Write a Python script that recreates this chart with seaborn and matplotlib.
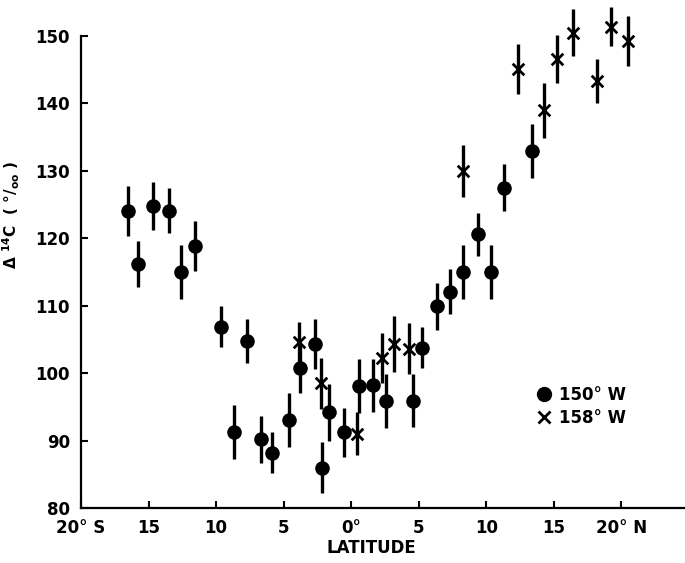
import matplotlib
matplotlib.use("Agg")
import matplotlib.pyplot as plt
import seaborn as sns
import pandas as pd
from matplotlib.lines import Line2D

# Delta 14C vs latitude, two cruise tracks
lat_150w = [-16.5, -15.75, -14.7, -13.5, -12.6, -11.6, -9.65, -8.7, -7.7, -6.7,
            -5.9, -4.6, -3.8, -2.7, -2.15, -1.65, -0.55, 0.6, 1.6, 2.6,
            4.6, 5.2, 6.35, 7.3, 8.3, 9.4, 10.35, 11.3, 13.4]
d14c_150w = [124.1, 116.2, 124.8, 124.1, 115.0, 118.9, 106.9, 91.3, 104.8, 90.2,
             88.2, 93.0, 100.8, 104.3, 86.0, 94.2, 91.2, 98.1, 98.2, 95.9,
             95.9, 103.8, 109.9, 112.1, 115.0, 120.6, 115.0, 127.5, 132.9]
err_150w = [3.7, 3.4, 3.5, 3.3, 4.0, 3.7, 3.0, 4.0, 3.3, 3.5,
            3.0, 4.0, 3.7, 3.7, 3.8, 4.2, 3.6, 4.0, 3.9, 4.0,
            3.9, 3.1, 3.5, 3.3, 4.0, 3.2, 4.0, 3.5, 4.0]

lat_158w = [-3.9, -2.25, 0.4, 2.25, 3.2, 4.3, 8.3, 12.35, 14.25, 15.2,
            16.4, 18.2, 19.2, 20.5]
d14c_158w = [104.6, 98.5, 91.0, 102.3, 104.3, 103.6, 130.0, 145.1, 139.0, 146.6,
             150.5, 143.3, 151.4, 149.2]
err_158w = [3.0, 3.8, 3.2, 3.7, 4.2, 3.8, 3.9, 3.7, 4.1, 3.5,
            3.5, 3.3, 2.9, 3.7]

xticks = [-20, -15, -10, -5, 0, 5, 10, 15, 20]
xticklabels = ["20° S", "15", "10", "5", "0°", "5", "10", "15", "20° N"]
yticks = [80, 90, 100, 110, 120, 130, 140, 150]

df150 = pd.DataFrame({"lat": lat_150w, "d14c": d14c_150w, "err": err_150w})
df158 = pd.DataFrame({"lat": lat_158w, "d14c": d14c_158w, "err": err_158w})

sns.set_style("ticks")
plt.rcParams["font.family"] = ["DejaVu Sans"]
plt.rcParams["font.weight"] = "bold"
for key in ["text.color", "axes.labelcolor", "xtick.color", "ytick.color", "axes.edgecolor"]:
    plt.rcParams[key] = "black"

fig = plt.figure(figsize=(6.85, 5.63), dpi=100)
ax = fig.add_axes([81 / 685, 55 / 563, 604 / 685, 472 / 563])

# error bars first
for d in (df150, df158):
    ax.errorbar(d["lat"], d["d14c"], yerr=d["err"], fmt="none",
                ecolor="black", elinewidth=2.4, capsize=0, clip_on=False, zorder=2)

sns.scatterplot(data=df150, x="lat", y="d14c", marker="o", color="black",
                s=110, linewidth=0, legend=False, ax=ax, clip_on=False, zorder=3)
sns.scatterplot(data=df158, x="lat", y="d14c", marker="x", color="black",
                s=70, linewidth=2, legend=False, ax=ax, clip_on=False, zorder=3)

ax.set_xlim(-20, 24.7)
ax.set_ylim(80, 150)
ax.set_xticks(xticks)
ax.set_xticklabels(xticklabels)
ax.set_yticks(yticks)
ax.tick_params(direction="in", length=5, width=1.5, labelsize=12, pad=8)
for lab in ax.get_xticklabels() + ax.get_yticklabels():
    lab.set_fontweight("bold")
sns.despine(ax=ax)
for side in ["left", "bottom"]:
    ax.spines[side].set_linewidth(1.6)

ax.set_xlabel("LATITUDE", fontsize=12, fontweight="bold")
ax.xaxis.set_label_coords(0.48, -0.065)
ax.set_ylabel(r"$\Delta$ $^{\mathbf{14}}$C  ( °/$_{\mathbf{oo}}$ )",
              fontsize=11, fontweight="bold")
ax.yaxis.set_label_coords(-0.098, 0.62)

handles = [
    Line2D([], [], marker="o", color="black", linestyle="none", markersize=10),
    Line2D([], [], marker="x", color="black", linestyle="none", markersize=8, mew=2),
]
ax.legend(handles, ["150° W", "158° W"], loc="upper left",
          bbox_to_anchor=(0.73, 0.29), frameon=False, fontsize=12,
          handlelength=0.8, handletextpad=0.5, labelspacing=0.3)

fig.savefig("out.png", dpi=100)
